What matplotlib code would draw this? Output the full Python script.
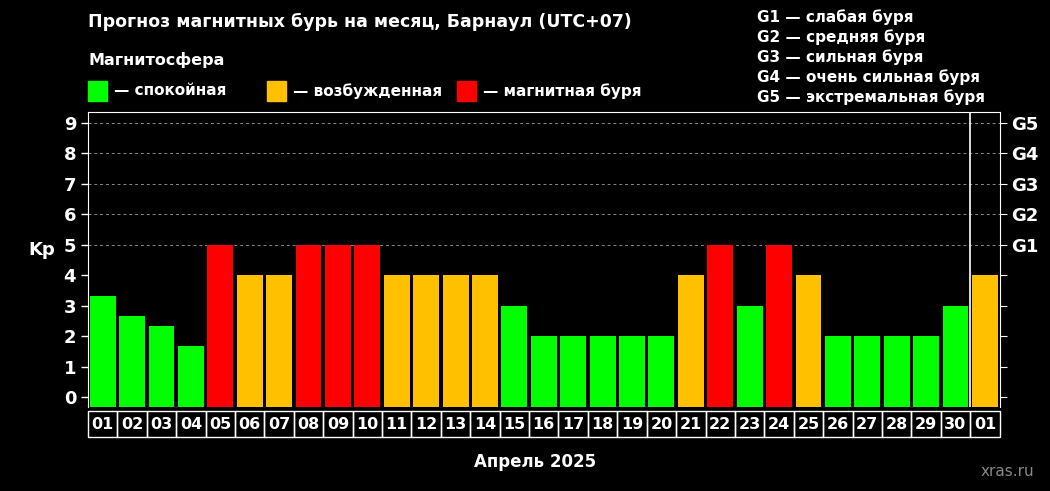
import matplotlib
matplotlib.use("Agg")
import matplotlib.pyplot as plt
from matplotlib.patches import Rectangle
from matplotlib.transforms import blended_transform_factory

days = ["01", "02", "03", "04", "05", "06", "07", "08", "09", "10",
        "11", "12", "13", "14", "15", "16", "17", "18", "19", "20",
        "21", "22", "23", "24", "25", "26", "27", "28", "29", "30", "01"]
kp = [3.33, 2.67, 2.33, 1.67, 5, 4, 4, 5, 5, 5,
      4, 4, 4, 4, 3, 2, 2, 2, 2, 2,
      4, 5, 3, 5, 4, 2, 2, 2, 2, 3, 4]
g_labels = ["G1", "G2", "G3", "G4", "G5"]
g_levels = [5, 6, 7, 8, 9]

GREEN, YELLOW, RED = "#00ff00", "#ffc000", "#ff0000"


def color_for(v):
    if v >= 5:
        return RED
    if v >= 4:
        return YELLOW
    return GREEN


fig = plt.figure(figsize=(10.5, 4.91), dpi=100, facecolor="black")
ax = fig.add_axes([0.0838, 0.171, 0.8682, 0.601], facecolor="black")

x = list(range(len(kp)))
ax.bar(x, [v + 0.33 for v in kp], bottom=-0.33, width=0.88,
       color=[color_for(v) for v in kp], zorder=3)
ax.set_xlim(-0.5, len(kp) - 0.5)
ax.set_ylim(-0.33, 9.36)
ax.axvline(len(kp) - 1.5, color="white", lw=1.2, zorder=4)

for y in g_levels:
    ax.axhline(y, color="#888888", lw=0.7, ls=(0, (3, 3)), zorder=1)

ax.set_yticks(range(10))
ax.tick_params(axis="y", colors="white", labelsize=13, width=1, length=5)
for t in ax.get_yticklabels():
    t.set_fontweight("bold")
ax.set_xticks([])
for s in ["left", "top", "right"]:
    ax.spines[s].set_color("white")
ax.spines["bottom"].set_visible(False)
ax.set_ylabel("Kp", color="white", fontsize=13, fontweight="bold",
              rotation=0, labelpad=16)

ax2 = ax.twinx()
ax2.set_ylim(ax.get_ylim())
ax2.set_yticks(range(10))
ax2.set_yticklabels(["", "", "", "", ""] + g_labels)
ax2.tick_params(axis="y", colors="white", labelsize=13, length=5)
for t in ax2.get_yticklabels():
    t.set_fontweight("bold")
for s in ax2.spines.values():
    s.set_visible(False)

# day label boxes under the bars
tr = blended_transform_factory(ax.transData, ax.transAxes)
for i, d in enumerate(days):
    ax.add_patch(Rectangle((i - 0.5, -0.1), 1, 0.085, transform=tr,
                           fill=False, edgecolor="white", lw=1, clip_on=False))
    ax.text(i, -0.058, d, transform=tr, color="white", fontsize=11.5,
            fontweight="bold", ha="center", va="center")

fig.text(0.51, 0.06, "Апрель 2025", color="white", fontsize=12,
         fontweight="bold", ha="center", va="center")
fig.text(0.985, 0.04, "xras.ru", color="#888888", fontsize=11,
         ha="right", va="center")

fig.text(0.084, 0.955, "Прогноз магнитных бурь на месяц, Барнаул (UTC+07)",
         color="white", fontsize=12.5, fontweight="bold", va="center")
fig.text(0.084, 0.877, "Магнитосфера", color="white", fontsize=11.5,
         fontweight="bold", va="center")
legend = [(GREEN, "— спокойная", 0.084), (YELLOW, "— возбужденная", 0.254),
          (RED, "— магнитная буря", 0.435)]
for c, lab, lx in legend:
    fig.patches.append(Rectangle((lx, 0.795), 0.018, 0.04, color=c,
                                 transform=fig.transFigure, figure=fig))
    fig.text(lx + 0.025, 0.815, lab, color="white", fontsize=11,
             fontweight="bold", va="center")

g_desc = ["G1 — слабая буря", "G2 — средняя буря", "G3 — сильная буря",
          "G4 — очень сильная буря", "G5 — экстремальная буря"]
for i, t in enumerate(g_desc):
    fig.text(0.721, 0.965 - i * 0.0405, t, color="white", fontsize=11,
             fontweight="bold", va="center")

fig.savefig("out.png", dpi=100, facecolor="black")
